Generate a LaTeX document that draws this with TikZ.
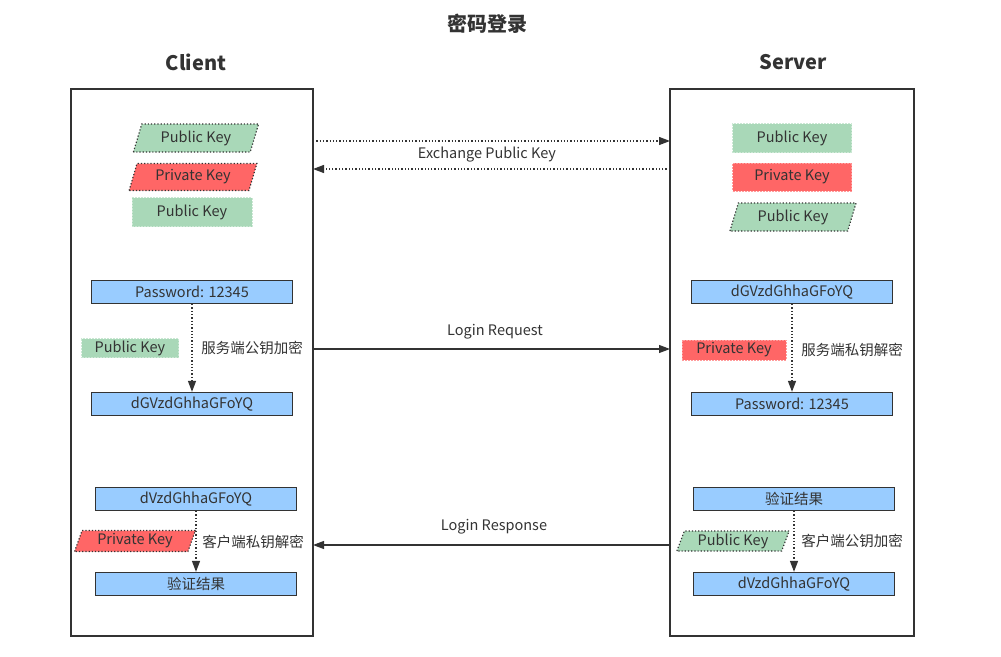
\documentclass[tikz,border=0pt]{standalone}
\usepackage{fontspec}
\setmainfont{Noto Sans CJK SC}
\usetikzlibrary{shapes.geometric,arrows.meta}
\definecolor{kgreen}{HTML}{A9D8B8}
\definecolor{kgreenb}{HTML}{CBE8D4}
\definecolor{kred}{HTML}{FF6666}
\definecolor{kredb}{HTML}{FF9C9C}
\definecolor{kblue}{HTML}{99CCFF}
\definecolor{ink}{HTML}{333333}
\begin{document}
\begin{tikzpicture}[x=1pt,y=-1pt,
  every node/.style={text=ink,font=\fontsize{14.5}{16}\selectfont},
  frame/.style={draw=ink,line width=1.3pt},
  bluebox/.style={rectangle,fill=kblue,draw=ink,line width=1.3pt,minimum width=201pt,minimum height=23pt,inner sep=0pt},
  greenrect/.style={rectangle,fill=kgreen,draw=kgreenb,dash pattern=on 2pt off 1pt,line width=0.8pt,inner sep=0pt},
  redrect/.style={rectangle,fill=kred,draw=kredb,dash pattern=on 2pt off 1pt,line width=0.8pt,inner sep=0pt},
  para/.style={trapezium,trapezium left angle=70,trapezium right angle=110,trapezium stretches=true,draw=ink,dotted,line width=1.2pt,inner sep=0pt},
  tip/.style={-{Triangle[length=11pt,width=8pt]}},
  dotline/.style={draw=ink,line width=1.3pt,dotted,tip},
  solidline/.style={draw=ink,line width=1.1pt,tip},
  head/.style={font=\fontsize{20}{22}\selectfont\bfseries}
]
\useasboundingbox (0,0) rectangle (1001,656);

\node[head] (title) at (487,24) {密码登录};
\node[head] (clientlbl) at (196,62) {Client};
\node[head] (serverlbl) at (793,62) {Server};

\draw[frame] (71,89) rectangle (313,636);
\draw[frame] (670,89) rectangle (914,636);
\coordinate (cR1) at (313,141);
\coordinate (sL1) at (670,141);
\coordinate (sL2) at (670,169);
\coordinate (cR2) at (313,169);
\coordinate (cR3) at (313,349);
\coordinate (sL3) at (670,349);
\coordinate (sL4) at (670,545);
\coordinate (cR4) at (313,545);

% client top
\node[para,fill=kgreen,minimum width=126pt,minimum height=28pt] (cpub1) at (196,138) {Public Key};
\node[para,fill=kred,minimum width=128pt,minimum height=27pt] (cpriv) at (193,177) {Private Key};
\node[greenrect,minimum width=120pt,minimum height=29pt] (cpub2) at (192,212) {Public Key};

% server top
\node[greenrect,minimum width=119pt,minimum height=29pt] (spub1) at (792,138) {Public Key};
\node[redrect,minimum width=119pt,minimum height=28pt] (spriv) at (792,177) {Private Key};
\node[para,fill=kgreen,minimum width=127pt,minimum height=28pt] (spub2) at (793,217) {Public Key};

\draw[dotline] (cR1) -- (sL1);
\draw[dotline] (sL2) -- (cR2);
\node (exlbl) at (487,155) {Exchange Public Key};

% client middle
\node[bluebox] (cpwd) at (192,292) {Password: 12345};
\node[bluebox] (cenc) at (192,404) {dGVzdGhhaGFoYQ};
\draw[dotline] (cpwd) -- (cenc);
\node[greenrect,minimum width=97pt,minimum height=19pt] (cpub3) at (130,348) {Public Key};
\node (clbl1) at (252,348) {服务端公钥加密};

\draw[solidline] (cR3) -- (sL3);
\node (reqlbl) at (495,332) {Login Request};

% server middle
\node[bluebox] (senc) at (792,292) {dGVzdGhhaGFoYQ};
\node[bluebox] (spwd) at (792,404) {Password: 12345};
\draw[dotline] (senc) -- (spwd);
\node[redrect,minimum width=104pt,minimum height=20pt] (spriv2) at (734,350) {Private Key};
\node (slbl1) at (852,350) {服务端私钥解密};

% client bottom
\node[bluebox] (cenc2) at (196,499) {dVzdGhhaGFoYQ};
\node[bluebox] (cres) at (196,584) {验证结果};
\draw[dotline] (cenc2) -- (cres);
\node[para,fill=kred,minimum width=121pt,minimum height=21pt] (cpriv2) at (135,541) {Private Key};
\node (clbl2) at (253,542) {客户端私钥解密};

\draw[solidline] (sL4) -- (cR4);
\node (reslbl) at (494,527) {Login Response};

% server bottom
\node[bluebox] (sres) at (794,499) {验证结果};
\node[bluebox] (senc2) at (794,584) {dVzdGhhaGFoYQ};
\draw[dotline] (sres) -- (senc2);
\node[para,fill=kgreen,minimum width=113pt,minimum height=20pt] (spub3) at (733,541) {Public Key};
\node (slbl2) at (852,541) {客户端公钥加密};
\end{tikzpicture}
\end{document}
